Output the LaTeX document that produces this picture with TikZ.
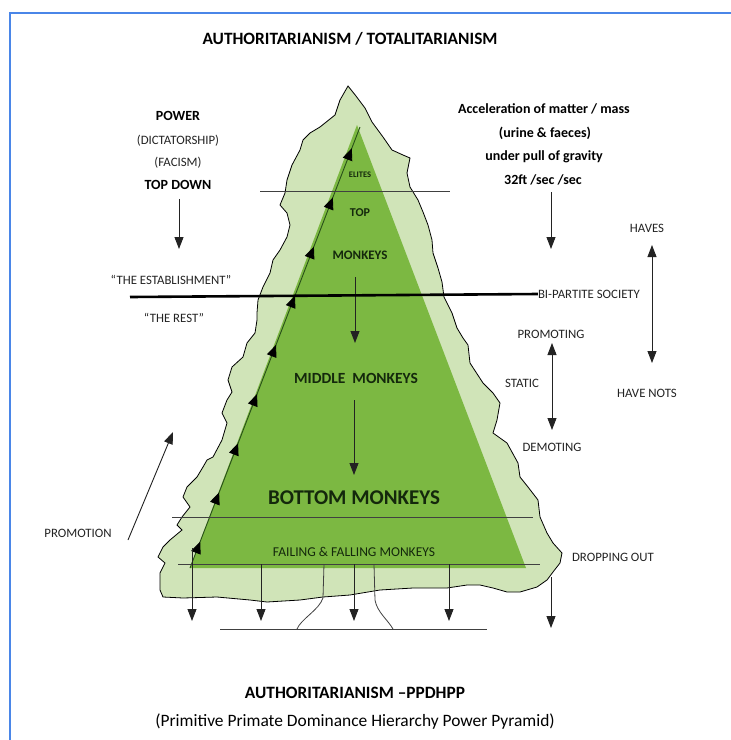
\documentclass[tikz,border=0pt]{standalone}
\usepackage{fontspec}
\setmainfont{Carlito}
\usepackage{xcolor}
\usetikzlibrary{arrows.meta,decorations.markings}
\definecolor{frameblue}{RGB}{74,134,232}
\definecolor{palegreen}{RGB}{208,228,184}
\definecolor{leafgreen}{RGB}{124,184,66}
\definecolor{stemgreen}{RGB}{40,80,25}
\definecolor{inkgray}{RGB}{35,35,35}
\begin{document}
\begin{tikzpicture}[
  x=1pt, y=-1pt,
  lbl/.style={font=\fontsize{12.8}{14}\selectfont, text=inkgray, inner sep=0pt},
  hdr/.style={font=\bfseries\fontsize{14}{16}\selectfont, inner sep=0pt},
  ttl/.style={font=\bfseries\fontsize{17.3}{20}\selectfont, inner sep=0pt},
  inlbl/.style={font=\bfseries\fontsize{13}{15}\selectfont, text=stemgreen!50!black, inner sep=0pt},
  arr/.style={-{Triangle[width=9pt,length=12pt]}, line width=0.9pt, inkgray},
  dbl/.style={{Triangle[width=9pt,length=12pt]}-{Triangle[width=9pt,length=12pt]}, line width=0.9pt, inkgray},
  tier/.style={line width=0.8pt, black!75},
  climb/.style={stemgreen, line width=0.9pt,
    postaction={decorate, decoration={markings,
      mark=between positions 0.06 and 0.96 step 0.1115 with {\arrow[black]{Triangle[width=10pt,length=12pt]}}}}}
]
\useasboundingbox (0,0) rectangle (731,740);
\draw[frameblue, line width=1.6pt] (10,740) -- (10,13) -- (731,13);

% titles
\node[ttl] (title) at (350,39) {AUTHORITARIANISM / TOTALITARIANISM};
\node[ttl] (ppdhpp) at (355,693) {AUTHORITARIANISM –PPDHPP};
\node[font=\fontsize{17.4}{20}\selectfont, inner sep=0pt] (pyramid) at (355,722)
  {(Primitive Primate Dominance Hierarchy Power Pyramid)};

% rough outline and pyramid
\filldraw[fill=palegreen, draw=black, line width=0.8pt]
  (348,86) -- (356,96) -- (365,108) -- (372,122) -- (383,137) -- (392,150)
  -- (403,155) -- (410,158) -- (407,173) -- (410,187) -- (418,200) -- (423,212)
  -- (428,225) -- (432,240) -- (433,253) -- (438,268) -- (442,282) -- (444,297)
  -- (452,313) -- (457,328) -- (463,338) -- (468,345) -- (470,363) -- (483,383)
  -- (493,393) -- (500,403) -- (497,420) -- (493,433) -- (507,443) -- (518,463)
  -- (520,477) -- (528,487) -- (538,500) -- (540,517) -- (547,533) -- (553,543)
  -- (562,553) -- (560,563) -- (553,572) -- (547,580) -- (537,587) -- (520,592)
  -- (507,592) -- (493,588) -- (480,585) -- (467,585) -- (447,588) -- (413,588)
  -- (380,590) -- (350,595) -- (323,597) -- (300,600) -- (267,602) -- (250,600)
  -- (217,597) -- (183,598) -- (163,597) -- (160,590) -- (160,573) -- (165,563)
  -- (158,557) -- (163,547) -- (170,540) -- (182,530) -- (177,525) -- (182,517)
  -- (190,507) -- (183,497) -- (187,487) -- (197,477) -- (203,467) -- (207,460)
  -- (213,457) -- (222,440) -- (227,423) -- (222,413) -- (227,400) -- (232,392)
  -- (228,380) -- (232,367) -- (243,357) -- (247,343) -- (255,333) -- (257,320)
  -- (257,313) -- (258,300) -- (263,287) -- (270,273) -- (273,260) -- (280,250)
  -- (287,237) -- (290,225) -- (287,213) -- (280,205) -- (285,193) -- (287,180)
  -- (292,165) -- (300,150) -- (303,140) -- (310,133) -- (320,127) -- (335,115)
  -- (340,100) -- cycle;
\fill[leafgreen] (357,125) -- (190,568) -- (526,568) -- cycle;
\draw[climb] (190,568) -- (360,127);

% tiers
\draw[tier] (260,191) -- (450,191);
\draw[tier] (172,517) -- (533,517);
\draw[tier] (178,564) -- (540,564);
\draw[tier] (220,629) -- (487,629);
\draw[tier] (324,564) -- (323,598) .. controls (319,610) and (301,619) .. (297,629);
\draw[tier] (374,564) -- (375,600) .. controls (377,612) and (388,620) .. (393,629);

\node[inlbl, font=\bfseries\fontsize{8.5}{10}\selectfont] (elites) at (360,175) {ELITES};
\node[inlbl, font=\bfseries\fontsize{12}{14}\selectfont] (top) at (360,213) {TOP};
\node[inlbl] (monkeys) at (360,255) {MONKEYS};
\node[inlbl, font=\bfseries\fontsize{15.5}{18}\selectfont] (middle) at (356,378) {MIDDLE\ \ MONKEYS};
\node[inlbl, font=\bfseries\fontsize{21}{24}\selectfont] (bottom) at (354,498) {BOTTOM MONKEYS};
\node[inlbl, font=\fontsize{13.5}{15}\selectfont] (failing) at (354,552) {FAILING \& FALLING MONKEYS};
\draw[arr] (355,277) -- (355,343);
\draw[arr] (354,400) -- (354,475);

% left column
\node[hdr] (power) at (178,116) {POWER};
\node[lbl] (dict) at (178,141) {(DICTATORSHIP)};
\node[lbl] (facism) at (178,163) {(FACISM)};
\node[hdr] (topdown) at (178,185) {TOP DOWN};
\coordinate (tdend) at (179,249);
\draw[arr] (topdown.south -| tdend) ++(0,9) -- (tdend);
\node[lbl] (estab) at (171,280) {``THE ESTABLISHMENT''};
\node[lbl] (rest) at (174,318) {``THE REST''};
\node[lbl] (promotion) at (78,533) {PROMOTION};
\coordinate (promfoot) at (128,540);
\coordinate (promhead) at (173,432);
\draw[arr] (promfoot) -- (promhead);

% right column
\node[hdr] (accel) at (544,109) {Acceleration of matter / mass};
\node[hdr] (urine) at (545,133) {(urine \& faeces)};
\node[hdr] (pull) at (544,157) {under pull of gravity};
\node[hdr] (speed) at (543,180) {32ft /sec /sec};
\coordinate (gravend) at (551,249);
\draw[arr] (speed.south -| gravend) ++(0,7) -- (gravend);
\node[lbl] (bipart) at (589,294) {BI-PARTITE SOCIETY};
\draw[line width=2.6pt] (130,297) -- (bipart.west);
\node[lbl] (haves) at (647,228) {HAVES};
\node[lbl] (havenots) at (647,393) {HAVE NOTS};
\coordinate (hvtop) at (652,245);
\coordinate (hvbot) at (652,363);
\draw[dbl] (hvtop) -- (hvbot);
\node[lbl] (promoting) at (551,334) {PROMOTING};
\node[lbl] (static) at (522,383) {STATIC};
\node[lbl] (demoting) at (552,447) {DEMOTING};
\coordinate (pdtop) at (552,343);
\coordinate (pdbot) at (552,430);
\draw[dbl] (pdtop) -- (pdbot);

% dropping out
\node[lbl] (dropping) at (613,557) {DROPPING OUT};
\draw[arr] (192,548) -- (192,621);
\foreach \dx in {261,354,449}
  \draw[arr] (\dx,564) -- (\dx,621);
\draw[arr] (551,577) -- (551,628);
\end{tikzpicture}
\end{document}
